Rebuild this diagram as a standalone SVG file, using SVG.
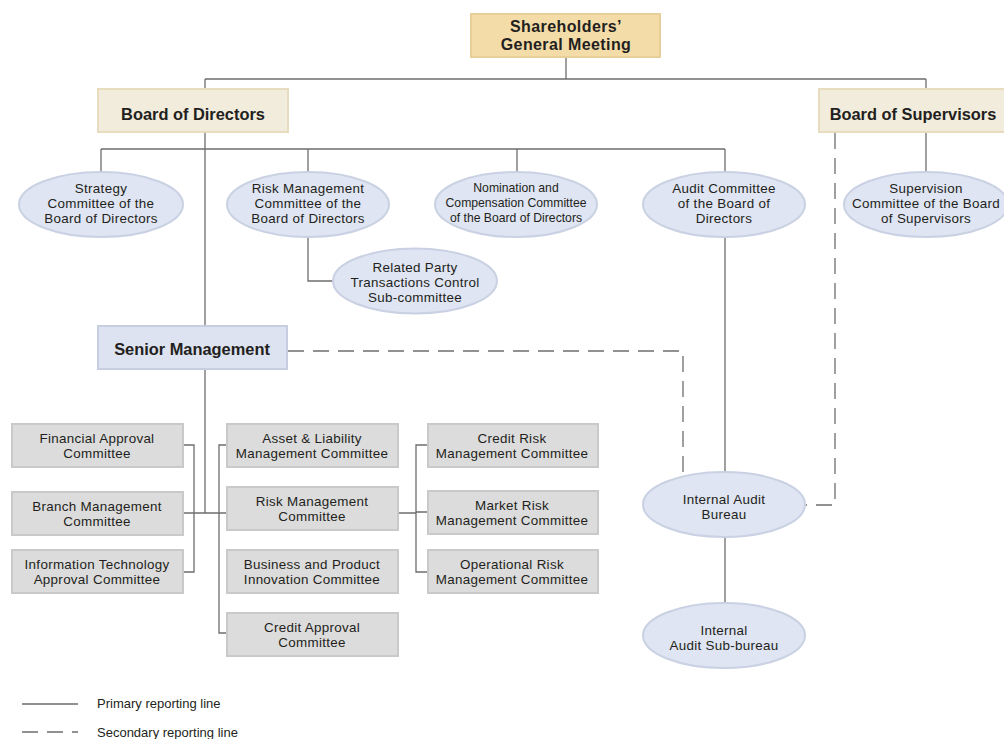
<svg xmlns="http://www.w3.org/2000/svg" width="1004" height="739" viewBox="0 0 1004 739">
<style>
text{font-family:"Liberation Sans",Arial,sans-serif;fill:#231f20;text-anchor:middle}
.b{font-weight:bold;font-size:16.4px}
.sh{font-weight:bold;font-size:16px;letter-spacing:0.4px}
.t{font-size:13.4px;letter-spacing:0.3px}
.n{font-size:12.2px}
.lg{font-size:13px;text-anchor:start}
.e{fill:#dfe5f2;stroke:#c9d1e3;stroke-width:2}
.bx{fill:#dcdcdc;stroke:#c9c9c9;stroke-width:2}
.ln{fill:none;stroke:#6d6d6d;stroke-width:1.3}
.ds{fill:none;stroke:#6d6d6d;stroke-width:1.3;stroke-dasharray:16 9}
</style>
<rect width="1004" height="739" fill="#fff"/>
<g id="connectors">
<path class="ln" d="M566,57V79M205,79H926M926,79V89M205,79V326M101,149H725M101,149V172M308,149V172M517,149V172M725,149V172M926,132V172"/>
<path class="ln" d="M308,237V281H333"/>
<path class="ln" d="M725,237V472M725,537V603"/>
<path class="ln" d="M205,369V513M183,513H227M183,445H194V572H183M227,445H219V633H227M398,513H416M428,445H416V572H428M416,512H428"/>
<path class="ds" d="M288,351H683V477"/>
<path class="ds" d="M835,133V505H806"/>
</g>
<g id="shareholders"><rect x="471" y="14" width="189" height="43" fill="#f3dca8" stroke="#e8cf98" stroke-width="2"/><text class="sh" x="566" y="32">Shareholders’<tspan x="566" y="50">General Meeting</tspan></text></g>
<g id="board-directors"><rect x="98" y="89" width="190" height="43" fill="#f2ecdc" stroke="#e8dcbf" stroke-width="2"/><text class="b" x="193" y="120">Board of Directors</text></g>
<g id="board-supervisors"><rect x="819" y="89" width="195" height="43" fill="#f2ecdc" stroke="#e8dcbf" stroke-width="2"/><text class="b" x="913" y="120">Board of Supervisors</text></g>
<g id="strategy"><ellipse class="e" cx="101" cy="204.5" rx="82" ry="32.5"/><text class="t" x="101" y="193">Strategy<tspan x="101" y="208">Committee of the</tspan><tspan x="101" y="223">Board of Directors</tspan></text></g>
<g id="risk-board"><ellipse class="e" cx="308" cy="204.5" rx="81" ry="32.5"/><text class="t" x="308" y="193">Risk Management<tspan x="308" y="208">Committee of the</tspan><tspan x="308" y="223">Board of Directors</tspan></text></g>
<g id="nomination"><ellipse class="e" cx="516" cy="204.5" rx="81" ry="32.5"/><text class="n" x="516" y="192">Nomination and<tspan x="516" y="207">Compensation Committee</tspan><tspan x="516" y="222">of the Board of Directors</tspan></text></g>
<g id="audit-committee"><ellipse class="e" cx="724" cy="204.5" rx="81" ry="32.5"/><text class="t" x="724" y="193">Audit Committee<tspan x="724" y="208">of the Board of</tspan><tspan x="724" y="223">Directors</tspan></text></g>
<g id="supervision"><ellipse class="e" cx="926" cy="204.5" rx="82" ry="32.5"/><text class="t" x="926" y="193">Supervision<tspan x="926" y="208">Committee of the Board</tspan><tspan x="926" y="223">of Supervisors</tspan></text></g>
<g id="related-party"><ellipse class="e" cx="415" cy="281" rx="82" ry="32.5"/><text class="t" x="415" y="272">Related Party<tspan x="415" y="287">Transactions Control</tspan><tspan x="415" y="302">Sub-committee</tspan></text></g>
<g id="senior-management"><rect x="98" y="326" width="189" height="43" fill="#dde3f0" stroke="#c6cee0" stroke-width="2"/><text class="b" x="192" y="355">Senior Management</text></g>
<g id="financial"><rect class="bx" x="12" y="424" width="171" height="43"/><text class="t" x="97" y="443">Financial Approval<tspan x="97" y="458">Committee</tspan></text></g>
<g id="branch"><rect class="bx" x="12" y="492" width="171" height="43"/><text class="t" x="97" y="511">Branch Management<tspan x="97" y="526">Committee</tspan></text></g>
<g id="it"><rect class="bx" x="12" y="550" width="171" height="43"/><text class="t" x="97" y="569">Information Technology<tspan x="97" y="584">Approval Committee</tspan></text></g>
<g id="alm"><rect class="bx" x="227" y="424" width="171" height="43"/><text class="t" x="312" y="443">Asset &amp; Liability<tspan x="312" y="458">Management Committee</tspan></text></g>
<g id="risk-mgmt"><rect class="bx" x="227" y="487" width="171" height="43"/><text class="t" x="312" y="506">Risk Management<tspan x="312" y="521">Committee</tspan></text></g>
<g id="business"><rect class="bx" x="227" y="550" width="171" height="43"/><text class="t" x="312" y="569">Business and Product<tspan x="312" y="584">Innovation Committee</tspan></text></g>
<g id="credit-approval"><rect class="bx" x="227" y="613" width="171" height="43"/><text class="t" x="312" y="632">Credit Approval<tspan x="312" y="647">Committee</tspan></text></g>
<g id="credit-risk"><rect class="bx" x="428" y="424" width="170" height="43"/><text class="t" x="512" y="443">Credit Risk<tspan x="512" y="458">Management Committee</tspan></text></g>
<g id="market-risk"><rect class="bx" x="428" y="491" width="170" height="43"/><text class="t" x="512" y="510">Market Risk<tspan x="512" y="525">Management Committee</tspan></text></g>
<g id="operational-risk"><rect class="bx" x="428" y="550" width="170" height="43"/><text class="t" x="512" y="569">Operational Risk<tspan x="512" y="584">Management Committee</tspan></text></g>
<g id="internal-audit"><ellipse class="e" cx="724" cy="504.5" rx="81" ry="32.5"/><text class="t" x="724" y="504">Internal Audit<tspan x="724" y="519">Bureau</tspan></text></g>
<g id="internal-audit-sub"><ellipse class="e" cx="724" cy="635.5" rx="81" ry="32.5"/><text class="t" x="724" y="635">Internal<tspan x="724" y="650">Audit Sub-bureau</tspan></text></g>
<g id="legend">
<path class="ln" d="M22,704H78"/>
<path class="ds" d="M22,732H78"/>
<text class="lg" x="97" y="708">Primary reporting line</text>
<text class="lg" x="97" y="737">Secondary reporting line</text>
</g>
</svg>
